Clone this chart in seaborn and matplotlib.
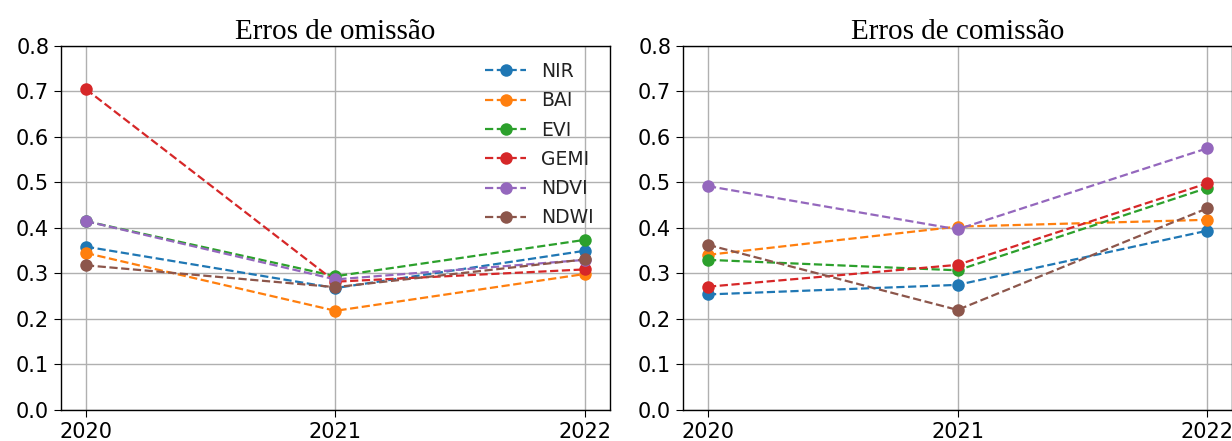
import matplotlib
matplotlib.use('Agg')
import matplotlib.pyplot as plt
import seaborn as sns
import pandas as pd

# Data
years = [2020, 2021, 2022]
indices = ['NIR', 'BAI', 'EVI', 'GEMI', 'NDVI', 'NDWI']

omissao_nir = [0.359, 0.268, 0.350]
omissao_bai = [0.345, 0.218, 0.299]
omissao_evi = [0.415, 0.294, 0.374]
omissao_gemi = [0.705, 0.282, 0.309]
omissao_ndvi = [0.415, 0.287, 0.330]
omissao_ndwi = [0.318, 0.270, 0.331]

comissao_nir = [0.254, 0.275, 0.394]
comissao_bai = [0.341, 0.403, 0.418]
comissao_evi = [0.330, 0.307, 0.488]
comissao_gemi = [0.271, 0.319, 0.498]
comissao_ndvi = [0.492, 0.397, 0.575]
comissao_ndwi = [0.363, 0.220, 0.443]

omissao = [omissao_nir, omissao_bai, omissao_evi, omissao_gemi, omissao_ndvi, omissao_ndwi]
comissao = [comissao_nir, comissao_bai, comissao_evi, comissao_gemi, comissao_ndvi, comissao_ndwi]

sns.set_style('whitegrid')
plt.rcParams['font.family'] = ['DejaVu Sans']
plt.rcParams['text.color'] = 'black'
colors = sns.color_palette('tab10', len(indices))

fig = plt.figure(figsize=(12.32, 4.41), dpi=100)
ax1 = fig.add_axes([0.0495, 0.0703, 0.4456, 0.8254])
ax2 = fig.add_axes([0.5544, 0.0703, 0.4456, 0.8254])

def draw_panel(ax, series, title, legend):
    for name, vals, c in zip(indices, series, colors):
        df = pd.DataFrame({'ano': years, 'erro': vals})
        sns.lineplot(data=df, x='ano', y='erro', ax=ax, color=c, marker='o',
                     markersize=9, markeredgewidth=0, linestyle='--',
                     linewidth=1.6, label=name if legend else None)
    ax.set_ylim(0, 0.8)
    ax.set_yticks([0, 0.1, 0.2, 0.3, 0.4, 0.5, 0.6, 0.7, 0.8])
    ax.set_xticks(years)
    ax.set_xticklabels([str(y) for y in years])
    ax.tick_params(labelsize=15, length=5, color='black', labelcolor='black',
                   left=True, bottom=True)
    ax.set_xlabel('')
    ax.set_ylabel('')
    ax.grid(True, color='#b0b0b0', linewidth=1)
    for s in ax.spines.values():
        s.set_color('black')
        s.set_linewidth(1)
    ax.set_title(title, fontsize=21, family='Liberation Serif', pad=5, color='black')
    if legend:
        leg = ax.legend(loc='upper right', frameon=False, fontsize=13.5,
                        handlelength=2.2, labelspacing=0.55, borderaxespad=0.45)
        for t in leg.get_texts():
            t.set_color('#222222')
    elif ax.get_legend() is not None:
        ax.get_legend().remove()

draw_panel(ax1, omissao, 'Erros de omissão', True)
draw_panel(ax2, comissao, 'Erros de comissão', False)

fig.savefig('out.png', dpi=100)
